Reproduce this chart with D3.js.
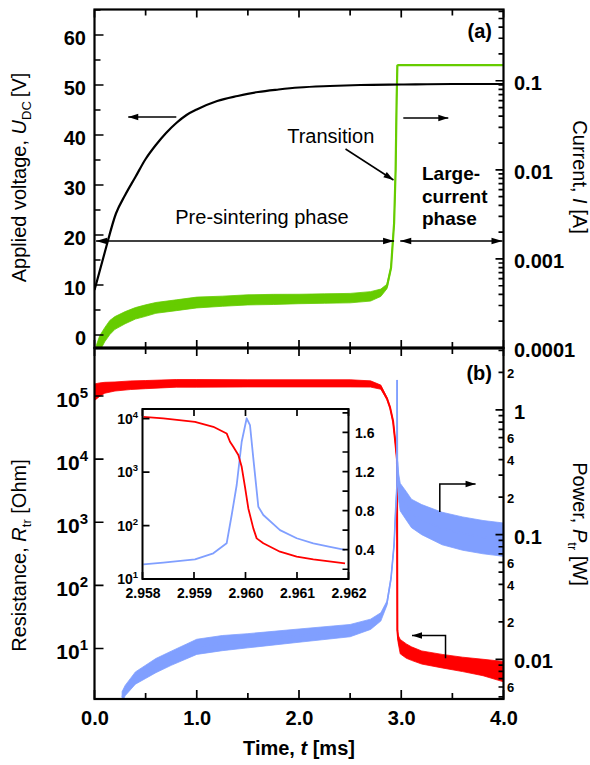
<!DOCTYPE html>
<html><head><meta charset="utf-8">
<script src="https://cdn.jsdelivr.net/npm/d3@7"></script>
<style>
html,body{margin:0;padding:0;background:#fff;}
svg{display:block;}
</style></head><body>
<svg id="chart" width="590" height="765"></svg>
<script>
// ---------- data ----------
// (a) applied DC voltage [V]
const voltTime  = [0, 0.1, 0.21, 0.3, 0.4, 0.5, 0.6, 0.7, 0.8, 0.9, 1.0, 1.2, 1.4, 1.6, 1.8, 2.0, 2.3, 2.6, 3.0, 3.5, 4.0];
const voltValue = [9, 16.5, 24.3, 28, 31.6, 35.2, 38, 40.4, 42.4, 44, 45.1, 46.8, 47.8, 48.6, 49.1, 49.5, 49.8, 50, 50.1, 50.2, 50.2];

// (a) current [A] with its noise spread (multiplicative)
const currTime  = [0.02, 0.05, 0.1, 0.15, 0.2, 0.3, 0.4, 0.5, 0.6, 0.8, 1.0, 1.25, 1.5, 1.75, 2.0, 2.25, 2.5, 2.7, 2.8, 2.86, 2.9, 2.93, 2.945, 2.955, 2.962, 2.97, 4.0];
const currAmp   = [8.9e-5, 1.12e-4, 1.41e-4, 1.70e-4, 1.91e-4, 2.19e-4, 2.45e-4, 2.63e-4, 2.82e-4, 3.02e-4, 3.24e-4, 3.35e-4, 3.47e-4, 3.51e-4, 3.55e-4, 3.59e-4, 3.63e-4, 3.80e-4, 4.17e-4, 4.90e-4, 7.94e-4, 2.51e-3, 1.0e-2, 6.3e-2, 0.148, 0.150, 0.150];
const currNoise = [1.22, 1.22, 1.2, 1.2, 1.18, 1.17, 1.16, 1.16, 1.15, 1.15, 1.15, 1.14, 1.14, 1.14, 1.13, 1.13, 1.13, 1.13, 1.1, 1.06, 1.03, 1, 1, 1, 1, 1, 1];

// (b) resistance [Ohm]
const resTime  = [0, 0.05, 0.1, 0.2, 0.35, 0.5, 0.8, 1.0, 1.5, 2.0, 2.5, 2.7, 2.8, 2.86, 2.89, 2.92, 2.94, 2.955, 2.958, 2.96, 2.962, 2.97, 2.99, 3.05, 3.1, 3.2, 3.4, 3.6, 3.8, 4.0];
const resOhm   = [114800, 125900, 134900, 141300, 147900, 151400, 158500, 158500, 158500, 158500, 158500, 154900, 138000, 91200, 66100, 39800, 19950, 11200, 10000, 575, 19.5, 14.1, 10.7, 9.1, 8.3, 7.2, 6.3, 5.6, 5.0, 4.3];
const resNoise = [1.35, 1.28, 1.22, 1.18, 1.17, 1.16, 1.15, 1.15, 1.14, 1.14, 1.14, 1.12, 1.08, 1.04, 1.03, 1.03, 1.03, 1.02, 1, 1, 1, 1.15, 1.3, 1.3, 1.28, 1.27, 1.28, 1.3, 1.35, 1.45];

// (b) power [W]
const powTime  = [0.27, 0.3, 0.35, 0.4, 0.5, 0.6, 0.75, 1.0, 1.25, 1.5, 2.0, 2.5, 2.7, 2.8, 2.86, 2.9, 2.93, 2.945, 2.955, 2.958, 2.96, 2.962, 2.966, 2.975, 2.99, 3.05, 3.1, 3.2, 3.4, 3.6, 3.8, 4.0];
const powWatt  = [0.00501, 0.00562, 0.00631, 0.00708, 0.00794, 0.00891, 0.0102, 0.0126, 0.0135, 0.0141, 0.0155, 0.0170, 0.0191, 0.0219, 0.0282, 0.0447, 0.0832, 0.158, 0.224, 0.25, 1.74, 0.40, 0.316, 0.240, 0.200, 0.170, 0.148, 0.132, 0.112, 0.102, 0.0955, 0.0912];
const powNoise = [1.1, 1.1, 1.11, 1.12, 1.13, 1.14, 1.14, 1.15, 1.15, 1.14, 1.13, 1.12, 1.1, 1.08, 1.04, 1.03, 1.03, 1.02, 1, 1, 1, 1, 1.2, 1.28, 1.29, 1.3, 1.3, 1.32, 1.35, 1.36, 1.36, 1.36];

// inset: transition close-up
const insetResTime = [2.958016, 2.958404, 2.959019, 2.959375, 2.959634, 2.959699, 2.959763, 2.959861, 2.959926, 2.959990, 2.960055, 2.960152, 2.960217, 2.960346, 2.960670, 2.960994, 2.961317, 2.961932];
const insetResOhm  = [10810, 10090, 8710, 7030, 5280, 3690, 2970, 2080, 1256, 531, 209, 88.5, 57.5, 46.5, 32.4, 26.1, 23.3, 19.6];
const insetPowTime = [2.958016, 2.958404, 2.959019, 2.959375, 2.959634, 2.959732, 2.959829, 2.959926, 2.960023, 2.960087, 2.960152, 2.960249, 2.960346, 2.960670, 2.960994, 2.961317, 2.961641, 2.961932];
const insetPowWatt = [0.25, 0.267, 0.30, 0.363, 0.465, 0.755, 1.062, 1.505, 1.745, 1.676, 1.335, 0.84, 0.755, 0.60, 0.517, 0.465, 0.43, 0.397];

// tick values and labels
const timeTicks = [0, 1, 2, 3, 4];
const timeMinor = [0.5, 1.5, 2.5, 3.5];
const voltTicks = [0, 10, 20, 30, 40, 50, 60];
const voltMinor = [5, 15, 25, 35, 45, 55, 65];
const currTicks = [1e-4, 1e-3, 1e-2, 1e-1];
const currLabels = ["0.0001", "0.001", "0.01", "0.1"];
const resTicks = [1e1, 1e2, 1e3, 1e4, 1e5];
const powTicks = [0.01, 0.1, 1];
const powLabels = ["0.01", "0.1", "1"];
const insetTimeTicks = [2.958, 2.959, 2.960, 2.961, 2.962];
const insetResTicks = [1e1, 1e2, 1e3, 1e4];
const insetPowTicks = [0.2, 0.4, 0.6, 0.8, 1.0, 1.2, 1.4, 1.6, 1.8];
const insetPowLabeled = [0.4, 0.8, 1.2, 1.6];

// ---------- layout ----------
const FONT = '"Liberation Sans", Arial, Helvetica, sans-serif';
const L = 94.5, R = 503.5, topA = 9.5, mid = 348, botB = 699;
const GREEN = "#66cc00", RED = "#ff0000", BLUE = "#809fff";

const svg = d3.select("#chart").attr("font-family", FONT);

const x  = d3.scaleLinear().domain([0, 4]).range([L, R]);
const yV = d3.scaleLinear().domain([-2.6, 65.1]).range([mid, topA]);
const yI = d3.scaleLog().domain([1e-4, Math.pow(10, -0.2)]).range([mid, topA]);
const yR = d3.scaleLog().domain([Math.pow(10, 0.2), Math.pow(10, 5.76)]).range([botB, mid]);
const yP = d3.scaleLog().domain([Math.pow(10, -2.318), Math.pow(10, 0.497)]).range([botB, mid]);

const defs = svg.append("defs");
defs.append("clipPath").attr("id", "clipA").append("rect").attr("x", L).attr("y", topA).attr("width", R - L).attr("height", mid - topA);
defs.append("clipPath").attr("id", "clipB").append("rect").attr("x", L).attr("y", mid).attr("width", R - L).attr("height", botB - mid);

const zip = (t, v, n) => t.map((d, i) => ({t: d, v: v[i], n: n ? n[i] : 1}));

function band(g, data, ys, color, lw) {
  g.append("path")
    .attr("d", d3.area().x(d => x(d.t)).y0(d => ys(d.v / d.n)).y1(d => ys(d.v * d.n))(data))
    .attr("fill", color).attr("stroke", color).attr("stroke-width", 0.8);
  g.append("path")
    .attr("d", d3.line().x(d => x(d.t)).y(d => ys(d.v))(data))
    .attr("fill", "none").attr("stroke", color).attr("stroke-width", lw || 2);
}

// ---------- panel (a) marks ----------
const gA = svg.append("g").attr("clip-path", "url(#clipA)");
band(gA, zip(currTime, currAmp, currNoise), yI, GREEN, 2.2);
gA.append("path")
  .attr("d", d3.line().curve(d3.curveMonotoneX).x(d => x(d.t)).y(d => yV(d.v))(zip(voltTime, voltValue)))
  .attr("fill", "none").attr("stroke", "#000").attr("stroke-width", 2.2);

// ---------- panel (b) marks ----------
const gB = svg.append("g").attr("clip-path", "url(#clipB)");
band(gB, zip(resTime, resOhm, resNoise), yR, RED, 2);
band(gB, zip(powTime, powWatt, powNoise), yP, BLUE, 1.6);

// ---------- axes ----------
// inward tick marks drawn from the scales; side = which frame edge they sit on
function tickMarks(scale, values, side, at, len) {
  const p = d3.path();
  values.forEach(v => {
    const s = scale(v);
    if (side === "left")   { p.moveTo(at, s); p.lineTo(at + len, s); }
    if (side === "right")  { p.moveTo(at, s); p.lineTo(at - len, s); }
    if (side === "top")    { p.moveTo(s, at); p.lineTo(s, at + len); }
    if (side === "bottom") { p.moveTo(s, at); p.lineTo(s, at - len); }
  });
  svg.append("path").attr("d", p.toString()).attr("fill", "none").attr("stroke", "#000").attr("stroke-width", 1.7);
}
function labelAxis(gen, tx, ty, size) {
  const a = svg.append("g").attr("transform", `translate(${tx},${ty})`).call(gen);
  a.select(".domain").remove();
  a.selectAll("line").remove();
  a.attr("font-family", FONT).attr("font-size", size || 20).attr("font-weight", "bold");
  a.selectAll("text").attr("fill", "#000");
  return a;
}

// time axes: top of (a), shared middle edge, bottom of (b)
tickMarks(x, timeTicks, "top", topA, 8);   tickMarks(x, timeMinor, "top", topA, 6);
tickMarks(x, timeTicks, "bottom", mid, 8); tickMarks(x, timeMinor, "bottom", mid, 6);
tickMarks(x, timeTicks, "top", mid, 8);    tickMarks(x, timeMinor, "top", mid, 6);
tickMarks(x, timeTicks, "bottom", botB, 9); tickMarks(x, timeMinor, "bottom", botB, 6);
labelAxis(d3.axisBottom(x).tickValues(timeTicks).tickSize(0).tickPadding(11.5).tickFormat(d3.format(".1f")), 0, botB);

// voltage (left a)
tickMarks(yV, voltTicks, "left", L, 9);
tickMarks(yV, voltMinor, "left", L, 6);
labelAxis(d3.axisLeft(yV).tickValues(voltTicks).tickSize(0).tickPadding(8.5).tickFormat(d3.format("d")), L, 0)
  .selectAll("text").attr("dy", "0.45em");

// current (right a)
const currMinor = [];
[1e-4, 1e-3, 1e-2, 1e-1].forEach(dec => { for (let k = 2; k <= 9; k++) { const v = k * dec; if (v < yI.domain()[1]) currMinor.push(v); } });
tickMarks(yI, currTicks, "right", R, 8);
tickMarks(yI, currMinor, "right", R, 5);
labelAxis(d3.axisRight(yI).tickValues(currTicks).tickSize(0).tickPadding(10.5).tickFormat((d, i) => currLabels[i]), R, 0)
  .selectAll("text").attr("dy", "0.42em");

// resistance (left b)
tickMarks(yR, resTicks, "left", L, 9);
function powerOfTen(xr, y, v, base, sup, raise) {
  const t = svg.append("text").attr("x", xr).attr("y", y).attr("text-anchor", "end")
    .attr("font-family", FONT).attr("font-weight", "bold").attr("fill", "#000");
  t.append("tspan").attr("font-size", base).text("10");
  t.append("tspan").attr("font-size", sup).attr("dy", -raise).text(Math.round(Math.log10(v)));
}
resTicks.forEach(v => powerOfTen(88, yR(v) + 11, v, 21, 15, 9));

// power (right b)
const powMinor = [];
[1e-3, 1e-2, 1e-1, 1].forEach(dec => { for (let k = 2; k <= 9; k++) { const v = k * dec; if (v > yP.domain()[0] && v < yP.domain()[1]) powMinor.push(v); } });
tickMarks(yP, powTicks, "right", R, 8);
tickMarks(yP, powMinor, "right", R, 5);
labelAxis(d3.axisRight(yP).tickValues(powTicks).tickSize(0).tickPadding(10.5).tickFormat((d, i) => powLabels[i]), R, 0)
  .selectAll("text").attr("dy", "0.42em");
const minorLabel = d => { const k = Math.round(d / Math.pow(10, Math.floor(Math.log10(d) + 1e-9))); return (k === 2 || k === 4 || k === 6) ? String(k) : ""; };
labelAxis(d3.axisRight(yP).tickValues(powMinor).tickSize(0).tickPadding(3.5).tickFormat(minorLabel), R, 0, 13)
  .selectAll("text").attr("dy", "0.38em");

// ---------- frames ----------
const frame = svg.append("g").attr("fill", "none").attr("stroke", "#000");
frame.append("rect").attr("x", L).attr("y", topA).attr("width", R - L).attr("height", mid - topA).attr("stroke-width", 2.2);
frame.append("rect").attr("x", L).attr("y", mid).attr("width", R - L).attr("height", botB - mid).attr("stroke-width", 2.2);
frame.append("path").attr("d", `M${L},${mid}H${R}`).attr("stroke-width", 3.2);

// ---------- annotations ----------
const ann = svg.append("g");
function arrow(pts, startHead, endHead, hl, hw) {
  hl = hl || 10; hw = hw || 3.2;
  ann.append("path").attr("d", d3.line()(pts)).attr("fill", "none").attr("stroke", "#000").attr("stroke-width", 1.5);
  const head = (tip, from) => {
    const dx = tip[0] - from[0], dy = tip[1] - from[1], len = Math.hypot(dx, dy);
    const ux = dx / len, uy = dy / len, bx = tip[0] - ux * hl, by = tip[1] - uy * hl;
    ann.append("path").attr("d", `M${tip[0]},${tip[1]}L${bx - uy * hw},${by + ux * hw}L${bx + uy * hw},${by - ux * hw}Z`).attr("fill", "#000");
  };
  if (startHead) head(pts[0], pts[1]);
  if (endHead) head(pts[pts.length - 1], pts[pts.length - 2]);
}
const pA = (t, v) => [x(t), yV(v)];
arrow([pA(0.80, 43.6), pA(0.33, 43.6)], false, true);
arrow([pA(3.02, 43.4), pA(3.46, 43.4)], false, true);
arrow([pA(2.455, 37.2), pA(2.924, 31)], false, true);
arrow([pA(0.015, 18.8), pA(2.93, 18.8)], true, true, 11, 3.2);
arrow([pA(2.99, 18.8), pA(3.99, 18.8)], true, true, 11, 3.2);
arrow([[x(3.377), yP(0.152)], [x(3.377), yP(0.2547)], [x(3.727), yP(0.2547)]], false, true);
arrow([[x(3.433), yR(7.0)], [x(3.433), yR(16.1)], [x(3.105), yR(16.1)]], false, true);

const txt = (xx, yy, s, opts) => svg.append("text").attr("x", xx).attr("y", yy).attr("font-family", FONT)
    .attr("font-size", (opts && opts.size) || 20).attr("font-weight", (opts && opts.weight) || "normal")
    .attr("text-anchor", (opts && opts.anchor) || "start").attr("fill", "#000").text(s);
txt(x(1.885), yV(38.4), "Transition");
txt(262, yV(22.2), "Pre-sintering phase", {anchor: "middle"});
txt(422, 180, "Large-", {weight: "bold", size: 19});
txt(422, 203, "current", {weight: "bold", size: 19});
txt(422, 225, "phase", {weight: "bold", size: 19});
txt(492, 37.5, "(a)", {weight: "bold", anchor: "end"});
txt(492, 380, "(b)", {weight: "bold", anchor: "end"});

// ---------- axis titles ----------
function title(tx, ty, rot, parts, weight) {
  const t = svg.append("text").attr("transform", `translate(${tx},${ty}) rotate(${rot})`)
    .attr("text-anchor", "middle").attr("font-family", FONT).attr("font-size", 20)
    .attr("font-weight", weight || "normal").attr("fill", "#000");
  parts.forEach(p => {
    const s = t.append("tspan").text(p.s);
    if (p.it) s.attr("font-style", "italic");
    if (p.sub) s.attr("font-size", 13).attr("dy", 5);
    if (p.back) s.attr("dy", -5);
  });
}
title(26, 177.5, -90, [{s: "Applied voltage, "}, {s: "U", it: true}, {s: "DC", sub: true}, {s: "\u2009[V]", back: true}]);
title(26, 555.5, -90, [{s: "Resistance, "}, {s: "R", it: true}, {s: "tr", sub: true}, {s: " [Ohm]", back: true}]);
title(573, 177, 90, [{s: "Current, "}, {s: "I", it: true}, {s: " [A]"}]);
title(573, 524, 90, [{s: "Power, "}, {s: "P", it: true}, {s: "tr", sub: true}, {s: " [W]", back: true}]);
title(299, 755, 0, [{s: "Time, "}, {s: "t", it: true}, {s: " [ms]"}], "bold");

// ---------- inset ----------
const iL = 142.5, iR = 348.5, iT = 409, iB = 579;
const ix  = d3.scaleLinear().domain([2.958, 2.962]).range([iL, iR]);
const iyR = d3.scaleLog().domain([10, Math.pow(10, 4.18)]).range([iB, iT]);
const iyP = d3.scaleLinear().domain([0.1, 1.84]).range([iB, iT]);
svg.append("rect").attr("x", iL).attr("y", iT).attr("width", iR - iL).attr("height", iB - iT).attr("fill", "#fff");
defs.append("clipPath").attr("id", "clipI").append("rect").attr("x", iL).attr("y", iT).attr("width", iR - iL).attr("height", iB - iT);
const gI = svg.append("g").attr("clip-path", "url(#clipI)");
gI.append("path").attr("d", d3.line().x(d => ix(d.t)).y(d => iyP(d.v))(zip(insetPowTime, insetPowWatt)))
  .attr("fill", "none").attr("stroke", BLUE).attr("stroke-width", 1.8).attr("stroke-linejoin", "round");
gI.append("path").attr("d", d3.line().x(d => ix(d.t)).y(d => iyR(d.v))(zip(insetResTime, insetResOhm)))
  .attr("fill", "none").attr("stroke", RED).attr("stroke-width", 1.8).attr("stroke-linejoin", "round");

tickMarks(ix, insetTimeTicks, "bottom", iB, 7);
tickMarks(ix, insetTimeTicks, "top", iT, 7);
tickMarks(iyR, insetResTicks, "left", iL, 7);
tickMarks(iyP, insetPowTicks, "right", iR, 6);
labelAxis(d3.axisBottom(ix).tickValues(insetTimeTicks).tickSize(0).tickPadding(8.6).tickFormat(d3.format(".3f")), 0, iB, 14);
insetResTicks.forEach(v => powerOfTen(138, iyR(v) + 5, v, 14, 9.5, 6));
labelAxis(d3.axisRight(iyP).tickValues(insetPowTicks).tickSize(0).tickPadding(6.5)
  .tickFormat(d => insetPowLabeled.some(q => Math.abs(q - d) < 1e-9) ? d3.format(".1f")(d) : ""), iR, 0, 14)
  .selectAll("text").attr("dy", "0.36em");
svg.append("rect").attr("x", iL).attr("y", iT).attr("width", iR - iL).attr("height", iB - iT)
  .attr("fill", "none").attr("stroke", "#000").attr("stroke-width", 2);
</script>
</body></html>
